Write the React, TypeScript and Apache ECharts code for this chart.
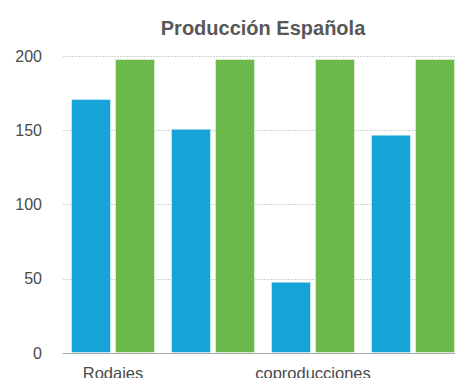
import React, { useEffect, useRef } from "react";
import * as echarts from "echarts";

const categories = ["Rodajes", "Largometrajes", "coproducciones", "Cortometrajes"];
const seriesBlue = [171, 151, 48, 147];
const seriesGreen = [198, 198, 198, 198];
const yTicks = [0, 50, 100, 150, 200];

export default function App() {
  const ref = useRef<HTMLDivElement>(null);

  useEffect(() => {
    if (!ref.current) return;
    const chart = echarts.init(ref.current, undefined, { renderer: "svg" });
    const font = "'Liberation Sans', Arial, Helvetica, sans-serif";
    chart.setOption({
      animation: false,
      textStyle: { fontFamily: font },
      title: {
        text: "Producción Española",
        left: "center",
        top: 13,
        textStyle: { fontSize: 20, fontWeight: "bold", color: "#585858", fontFamily: font },
      },
      grid: { left: 63, right: 63, top: 56, bottom: 47, containLabel: false },
      xAxis: {
        type: "category",
        data: categories,
        axisLine: { lineStyle: { color: "#aaa", width: 1 } },
        axisTick: { show: false },
        axisLabel: { interval: 1, margin: 11, fontSize: 16.5, color: "#4a4a4a", fontFamily: font },
      },
      yAxis: {
        type: "value",
        min: yTicks[0],
        max: yTicks[yTicks.length - 1],
        interval: 50,
        axisLine: { show: false },
        axisTick: { show: false },
        axisLabel: { margin: 21, fontSize: 16, color: "#4a4a4a", fontFamily: font },
        splitLine: { lineStyle: { color: "#d0d0d0", type: [2, 1], width: 1 } },
      },
      series: [
        {
          name: "Blue",
          type: "bar",
          data: seriesBlue,
          barWidth: 40,
          barGap: "10%",
          itemStyle: { color: "#15a3d8", borderColor: "rgba(255,255,255,0.45)", borderWidth: 1 },
        },
        {
          name: "Green",
          type: "bar",
          data: seriesGreen,
          barWidth: 40,
          barGap: "10%",
          itemStyle: { color: "#6db84a", borderColor: "rgba(255,255,255,0.45)", borderWidth: 1 },
        },
      ],
    });
    return () => chart.dispose();
  }, []);

  return (
    <div style={{ position: "absolute", left: 0, top: 0, width: 455, height: 378, overflow: "hidden" }}>
      <div ref={ref} style={{ width: 526, height: 400 }} />
    </div>
  );
}
